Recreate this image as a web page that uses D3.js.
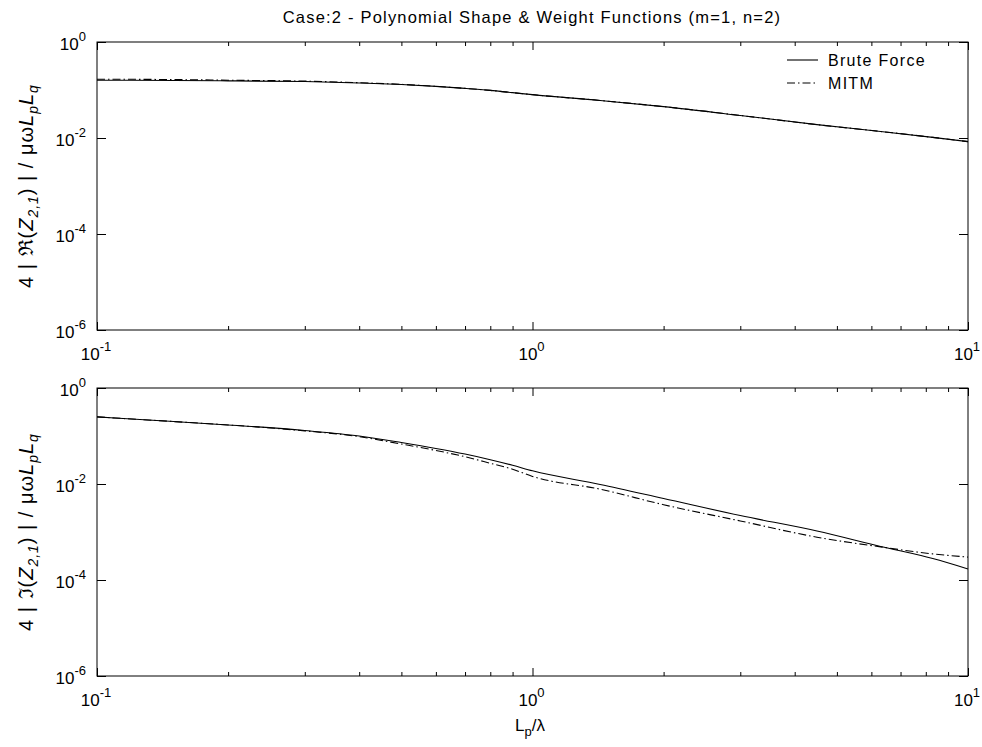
<!DOCTYPE html>
<html>
	<head>
		<meta charset="utf-8">
		<style type="text/css">
			body { margin: 0; background: #fff; }
			svg text { font-family: "Liberation Sans", Arial, Helvetica, sans-serif; fill: #000; }
			.frame { fill: none; stroke: #000; stroke-width: 1; }
			.tick line { stroke: #000; }
			.series { fill: none; stroke: #000; stroke-width: 1.1; }
			.mitm { stroke-dasharray: 8,3,1.5,3; }
		</style>
		<title>Case:2 - Polynomial Shape & Weight Functions (m=1, n=2)</title>
	</head>
	<body>
		<script src="https://cdn.jsdelivr.net/npm/d3@7/dist/d3.min.js"></script>
		<script>

// L_p / lambda sample points
var lp = [0.1, 0.15, 0.2, 0.3, 0.4, 0.5, 0.6, 0.7, 0.8, 0.9, 1, 1.43, 2, 3, 4.5, 6.3, 8.3, 10];

// top panel: real part
var reBrute = [0.16, 0.158, 0.155, 0.15, 0.14, 0.13, 0.119, 0.108, 0.098, 0.088, 0.08, 0.0605, 0.045, 0.0295, 0.019, 0.0137, 0.0103, 0.0084];
var reMitm  = [0.168, 0.165, 0.16, 0.153, 0.142, 0.131, 0.119, 0.108, 0.098, 0.088, 0.08, 0.0605, 0.045, 0.0295, 0.019, 0.0137, 0.0103, 0.0084];

// bottom panel: imaginary part
var imBrute = [0.25, 0.2, 0.17, 0.13, 0.1, 0.073, 0.055, 0.042, 0.032, 0.0245, 0.0188, 0.0098, 0.005, 0.0022, 0.00105, 0.0005, 0.00028, 0.00017];
var imMitm  = [0.25, 0.2, 0.17, 0.128, 0.097, 0.068, 0.05, 0.037, 0.027, 0.0203, 0.0144, 0.0078, 0.0037, 0.0017, 0.00078, 0.00049, 0.00035, 0.0003];

var xMajor = [0.1, 1, 10];
var xMinor = [0.2, 0.3, 0.4, 0.5, 0.6, 0.7, 0.8, 0.9, 2, 3, 4, 5, 6, 7, 8, 9];
var yMajor = [1, 1e-2, 1e-4, 1e-6];

var W = 982, H = 747;
var left = 97, right = 968;

var svg = d3.select('body').append('svg')
	.attr('width', W)
	.attr('height', H);

svg.append('text')
	.attr('x', 532)
	.attr('y', 23)
	.attr('text-anchor', 'middle')
	.style('font-size', '16.5px')
	.style('letter-spacing', '1.2px')
	.text('Case:2 - Polynomial Shape & Weight Functions (m=1, n=2)');

var x = d3.scaleLog()
	.domain([0.1, 10])
	.range([left, right]);

// write 10^k with a raised exponent
function powLabel(sel, v) {
	var k = Math.round(Math.log10(v));
	sel.append('tspan').text('10');
	sel.append('tspan')
		.attr('dy', -9)
		.style('font-size', '13px')
		.text(k);
}

function panel(top, bottom, brute, mitm, part, withLegend) {
	var y = d3.scaleLog()
		.domain([1e-6, 1])
		.range([bottom, top]);

	var g = svg.append('g');

	// ticks point inwards on all four sides
	g.append('g')
		.attr('transform', `translate(0,${bottom})`)
		.call(d3.axisBottom(x).tickValues(xMajor).tickSize(-8).tickFormat(''))
		.call(a => a.select('.domain').remove());
	g.append('g')
		.attr('transform', `translate(0,${bottom})`)
		.call(d3.axisBottom(x).tickValues(xMinor).tickSize(-4).tickFormat(''))
		.call(a => a.select('.domain').remove());
	g.append('g')
		.attr('transform', `translate(0,${top})`)
		.call(d3.axisTop(x).tickValues(xMajor).tickSize(-8).tickFormat(''))
		.call(a => a.select('.domain').remove());
	g.append('g')
		.attr('transform', `translate(0,${top})`)
		.call(d3.axisTop(x).tickValues(xMinor).tickSize(-4).tickFormat(''))
		.call(a => a.select('.domain').remove());
	g.append('g')
		.attr('transform', `translate(${left},0)`)
		.call(d3.axisLeft(y).tickValues(yMajor).tickSize(-9).tickFormat(''))
		.call(a => a.select('.domain').remove());
	g.append('g')
		.attr('transform', `translate(${right},0)`)
		.call(d3.axisRight(y).tickValues(yMajor).tickSize(-9).tickFormat(''))
		.call(a => a.select('.domain').remove());

	g.append('rect')
		.attr('class', 'frame')
		.attr('x', left)
		.attr('y', top)
		.attr('width', right - left)
		.attr('height', bottom - top);

	g.selectAll('.xlab')
		.data(xMajor)
		.enter().append('text')
		.attr('class', 'xlab')
		.attr('x', d => x(d) - 1)
		.attr('y', bottom + 30)
		.attr('text-anchor', 'middle')
		.style('font-size', '17px')
		.each(function(d) { powLabel(d3.select(this), d); });

	g.selectAll('.ylab')
		.data(yMajor)
		.enter().append('text')
		.attr('class', 'ylab')
		.attr('x', 86)
		.attr('y', d => y(d) + 8)
		.attr('text-anchor', 'end')
		.style('font-size', '17px')
		.each(function(d) { powLabel(d3.select(this), d); });

	var line = d3.line()
		.x((d, i) => x(lp[i]))
		.y(d => y(d))
		.curve(d3.curveMonotoneX);

	g.append('path')
		.datum(brute)
		.attr('class', 'series')
		.attr('d', line);
	g.append('path')
		.datum(mitm)
		.attr('class', 'series mitm')
		.attr('d', line);

	// y axis title
	var t = g.append('text')
		.attr('transform', `translate(33,${(top + bottom) / 2}) rotate(-90)`)
		.attr('text-anchor', 'middle')
		.style('font-size', '20px')
		.style('letter-spacing', '1px');
	t.append('tspan').text('4 | ' + part + '(');
	t.append('tspan').style('font-style', 'italic').text('Z');
	t.append('tspan').attr('dy', 5).style('font-size', '14px').style('font-style', 'italic').text('2,1');
	t.append('tspan').attr('dy', -5).text(') |  / μω');
	t.append('tspan').style('font-style', 'italic').text('L');
	t.append('tspan').attr('dy', 5).style('font-size', '14px').style('font-style', 'italic').text('p');
	t.append('tspan').attr('dy', -5).style('font-style', 'italic').text('L');
	t.append('tspan').attr('dy', 5).style('font-size', '14px').style('font-style', 'italic').text('q');

	if (withLegend) {
		var leg = g.append('g');
		leg.append('line')
			.attr('class', 'series')
			.attr('x1', 787).attr('x2', 818)
			.attr('y1', 60).attr('y2', 60);
		leg.append('text')
			.attr('x', 828).attr('y', 66)
			.style('font-size', '16px')
			.style('letter-spacing', '1.3px')
			.text('Brute Force');
		leg.append('line')
			.attr('class', 'series mitm')
			.attr('x1', 787).attr('x2', 818)
			.attr('y1', 83).attr('y2', 83);
		leg.append('text')
			.attr('x', 828).attr('y', 89)
			.style('font-size', '16px')
			.style('letter-spacing', '1.3px')
			.text('MITM');
	}
}

panel(42, 330, reBrute, reMitm, 'ℜ', true);
panel(388, 676, imBrute, imMitm, 'ℑ', false);

// x axis title
var xt = svg.append('text')
	.attr('x', 530)
	.attr('y', 731)
	.attr('text-anchor', 'middle')
	.style('font-size', '17px');
xt.append('tspan').text('L');
xt.append('tspan').attr('dy', 5).style('font-size', '13px').text('p');
xt.append('tspan').attr('dy', -5).text('/λ');

		</script>
	</body>
</html>
